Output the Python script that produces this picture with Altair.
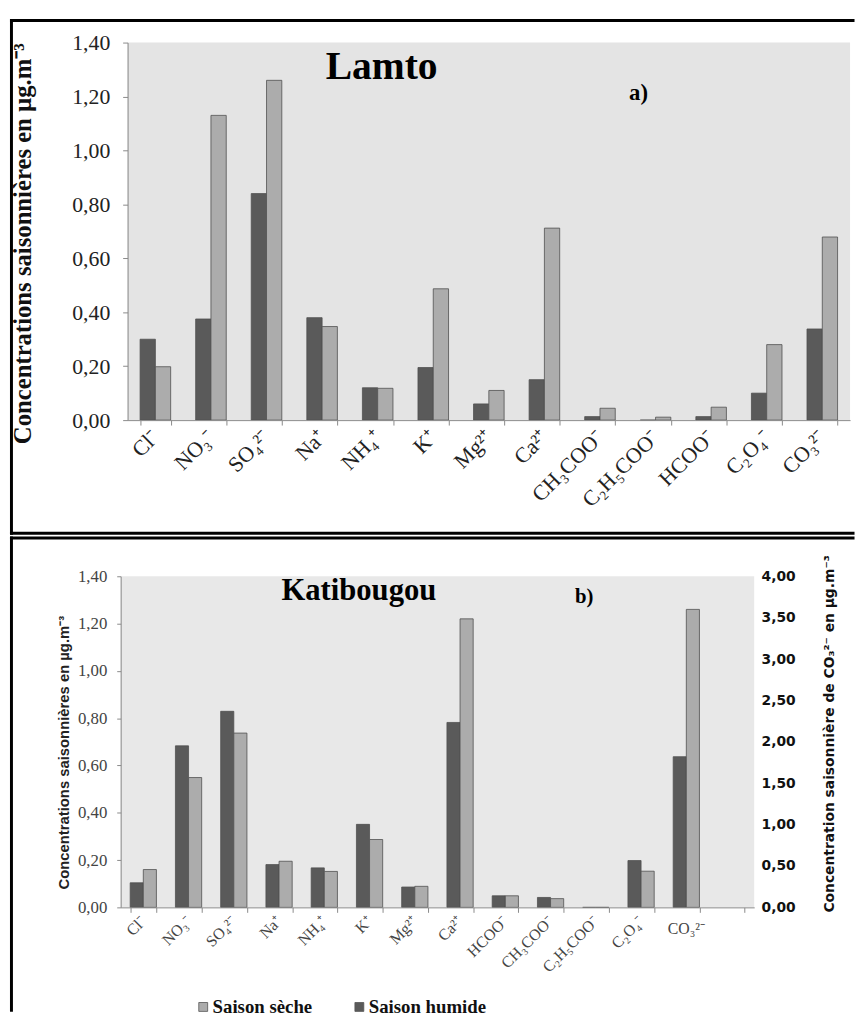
import altair as alt
import pandas as pd

# ---------------- data ----------------
ions_lamto = ["Cl⁻", "NO₃⁻", "SO₄²⁻", "Na⁺", "NH₄⁺", "K⁺", "Mg²⁺", "Ca²⁺",
              "CH₃COO⁻", "C₂H₅COO⁻", "HCOO⁻", "C₂O₄⁻", "CO₃²⁻"]
lamto_humide = [0.30, 0.375, 0.84, 0.38, 0.12, 0.195, 0.06, 0.15, 0.013, 0.0, 0.013, 0.10, 0.338]
lamto_seche = [0.198, 1.13, 1.26, 0.347, 0.118, 0.487, 0.11, 0.712, 0.044, 0.011, 0.048, 0.28, 0.679]

ions_kati = ["Cl⁻", "NO₃⁻", "SO₄²⁻", "Na⁺", "NH₄⁺", "K⁺", "Mg²⁺", "Ca²⁺",
             "HCOO⁻", "CH₃COO⁻", "C₂H₅COO⁻", "C₂O₄⁻"]
kati_humide = [0.104, 0.683, 0.829, 0.181, 0.167, 0.351, 0.086, 0.782, 0.049, 0.042, 0.0, 0.198]
kati_seche = [0.16, 0.549, 0.737, 0.195, 0.152, 0.287, 0.089, 1.22, 0.049, 0.037, 0.0, 0.153]
co3_ion = "CO₃²⁻"
kati_co3_humide = 1.82   # right axis (CO3 2-) units
kati_co3_seche = 3.60

seasons_bar = ["Saison humide", "Saison sèche"]
seasons_legend = ["Saison sèche", "Saison humide"]
season_colors = ["#acacac", "#5a5a5a"]

left_ticks = [0.0, 0.2, 0.4, 0.6, 0.8, 1.0, 1.2, 1.4]
right_ticks = [0.0, 0.5, 1.0, 1.5, 2.0, 2.5, 3.0, 3.5, 4.0]

comma_fmt = "replace(format(datum.value, '.2f'), '.', ',')"


def long_df(ions, hum, sec):
    rows = []
    for i, h, s in zip(ions, hum, sec):
        rows.append({"ion": i, "saison": "Saison humide", "value": h})
        rows.append({"ion": i, "saison": "Saison sèche", "value": s})
    return pd.DataFrame(rows)


df_a = long_df(ions_lamto, lamto_humide, lamto_seche)
df_b = long_df(ions_kati, kati_humide, kati_seche)
df_co3 = long_df([co3_ion], [kati_co3_humide], [kati_co3_seche])
one = pd.DataFrame({"k": [0]})

SERIF = "Liberation Serif, Times New Roman, serif"
SANS = "Liberation Sans, Arial, sans-serif"
WIDE = "DejaVu Sans, Verdana, sans-serif"
AXC = "#8a8a8a"

# ---------------- layout (pixels, relative to panel a plot origin) ----------------
W = 731            # panel a plot width
HA = 382           # panel a plot height
B_TOP, B_BOT = 540, 875   # panel b plot vertical extent
B_LEFT, B_RIGHT = -7, 634  # panel b plot horizontal extent


def rule(**enc):
    return alt.Chart(one).mark_rule(color="black", strokeWidth=3,
                                    strokeCap="square").encode(**enc)


def bg(x1, x2, y1, y2, fill):
    return alt.Chart(one).mark_rect(color=fill).encode(
        x=alt.value(x1), x2=alt.value(x2), y=alt.value(y1), y2=alt.value(y2))


def label_text(txt, x, y, size, font=SERIF):
    return alt.Chart(pd.DataFrame({"t": [txt]})).mark_text(
        font=font, fontSize=size, fontWeight="bold", align="center",
        baseline="alphabetic", color="black"
    ).encode(text="t:N", x=alt.value(x), y=alt.value(y))


# ---------------- panel a) Lamto ----------------
x_a = alt.X("ion:N", sort=ions_lamto,
            scale=alt.Scale(domain=ions_lamto, paddingInner=0.45, paddingOuter=0.225),
            axis=alt.Axis(orient="bottom", offset=-(B_BOT - HA), zindex=1,
                          title=None, tickBand="extent", labels=False,
                          domainColor=AXC, tickColor=AXC, tickSize=5))

bars_a = alt.Chart(df_a).mark_bar(stroke="#505050", strokeWidth=0.8).encode(
    x=x_a,
    xOffset=alt.XOffset("saison:N", scale=alt.Scale(domain=seasons_bar)),
    y=alt.Y("value:Q", scale=alt.Scale(domain=[0, 1.4], range=[HA, 0], nice=False),
            axis=alt.Axis(orient="left", values=left_ticks, labelExpr=comma_fmt,
                          grid=False, zindex=1,
                          title="Concentrations saisonnières en µg.m⁻³",
                          titleFont=SERIF, titleFontSize=25, titleFontWeight="bold",
                          titleColor="#111", titleAngle=270, titleX=-106, titleY=203,
                          titleAlign="center", titleBaseline="middle",
                          labelFont=SERIF, labelFontSize=22, labelColor="#222",
                          labelPadding=13, tickSize=5,
                          domainColor=AXC, tickColor=AXC)),
    color=alt.Color("saison:N", scale=alt.Scale(domain=seasons_legend, range=season_colors),
                    legend=None),
)

xlab_a = alt.Chart(pd.DataFrame({"ion": ions_lamto})).mark_text(
    font=SERIF, fontSize=22, color="#222", angle=315, align="right", baseline="middle"
).encode(x=x_a, text="ion:N", y=alt.value(HA + 14))

group_a = alt.layer(bars_a, xlab_a)

# ---------------- panel b) Katibougou ----------------
x_dom_b = ions_kati + [co3_ion, " "]
x_b = alt.X("ion:N", sort=x_dom_b,
            scale=alt.Scale(domain=x_dom_b, range=[B_LEFT, B_RIGHT],
                            paddingInner=0.42, paddingOuter=0.21),
            axis=alt.Axis(orient="bottom", zindex=1, labels=False,
                          title=None, tickBand="extent",
                          domainColor=AXC, tickColor=AXC, tickSize=5))
xoff_b = alt.XOffset("saison:N", scale=alt.Scale(domain=seasons_bar))
color_b = alt.Color("saison:N",
                    scale=alt.Scale(domain=seasons_legend, range=season_colors),
                    legend=alt.Legend(title=None, orient="none", legendX=67, legendY=966,
                                      direction="horizontal", columns=2, columnPadding=38,
                                      symbolType="square", symbolSize=81,
                                      symbolStrokeColor="#555", symbolStrokeWidth=0.8,
                                      labelFont=SERIF, labelFontSize=19,
                                      labelFontWeight="bold", labelColor="#111",
                                      labelOffset=0, padding=0))

bars_b = alt.Chart(df_b).mark_bar(stroke="#505050", strokeWidth=0.8).encode(
    x=x_b,
    xOffset=xoff_b,
    y=alt.Y("value:Q", scale=alt.Scale(domain=[0, 1.4], range=[B_BOT, B_TOP], nice=False),
            axis=alt.Axis(orient="left", offset=-B_LEFT, values=left_ticks,
                          labelExpr=comma_fmt, grid=False, zindex=1,
                          title="Concentrations saisonnières  en µg.m⁻³",
                          titleFont=SANS, titleFontSize=15, titleFontWeight="bold",
                          titleColor="#222", titleAngle=270, titleX=-58, titleY=718,
                          titleAlign="center", titleBaseline="middle",
                          labelFont=SERIF, labelFontSize=17, labelColor="#444",
                          labelPadding=10, tickSize=4,
                          domainColor=AXC, tickColor=AXC)),
    color=color_b,
)

bars_co3 = alt.Chart(df_co3).mark_bar(stroke="#505050", strokeWidth=0.8).encode(
    x=x_b,
    xOffset=xoff_b,
    y=alt.Y("value:Q", scale=alt.Scale(domain=[0, 4.0], range=[B_BOT, B_TOP], nice=False),
            axis=alt.Axis(orient="right", offset=-(W - B_RIGHT), values=right_ticks,
                          labelExpr=comma_fmt, grid=False, domain=False, ticks=False,
                          title="Concentration saisonnière de CO₃²⁻ en µg.m⁻³",
                          titleFont=WIDE, titleFontSize=14,
                          titleFontWeight="bold", titleColor="#111",
                          titleAngle=270, titleX=76, titleY=699,
                          titleAlign="center", titleBaseline="middle",
                          labelFont=WIDE, labelFontSize=14,
                          labelFontWeight="bold", labelColor="#111",
                          labelPadding=7)),
    color=color_b,
)

xlab_b = alt.Chart(pd.DataFrame({"ion": ions_kati})).mark_text(
    font=SERIF, fontSize=16, color="#444", angle=315, align="right", baseline="middle"
).encode(x=x_b, text="ion:N", y=alt.value(B_BOT + 12))

co3_label = alt.Chart(pd.DataFrame({"ion": [co3_ion]})).mark_text(
    font=SERIF, fontSize=16, color="#444", align="center", baseline="alphabetic"
).encode(x=x_b, text="ion:N", y=alt.value(B_BOT + 27))

group_b = alt.layer(bars_b, bars_co3, xlab_b, co3_label).resolve_scale(y="independent")

chart = alt.layer(
    bg(0, W, 0, HA, "#e4e4e4"),
    bg(B_LEFT, B_RIGHT, B_TOP, B_BOT, "#e8e8e8"),
    group_a,
    group_b,
    label_text("Lamto", 257, 37, 40),
    label_text("a)", 517, 58, 23),
    label_text("Katibougou", 234, 564, 31),
    label_text("b)", 462, 567, 21),
    # frame of panel a
    rule(x=alt.value(-117.5), x2=alt.value(734), y=alt.value(-22.3)),
    rule(x=alt.value(-117.5), x2=alt.value(734), y=alt.value(496.5)),
    rule(x=alt.value(-117.5), y=alt.value(-22.3), y2=alt.value(496.5)),
    # frame of panel b
    rule(x=alt.value(-117.5), x2=alt.value(734), y=alt.value(501.2)),
    rule(x=alt.value(-117.5), y=alt.value(501.2), y2=alt.value(979)),
).resolve_scale(
    x="independent", y="independent", xOffset="independent", color="independent"
).properties(
    width=W, height=B_BOT,
    padding={"left": 1, "top": 4, "right": 0, "bottom": 0},
    background="white",
).configure_view(stroke=None)

chart.save("out.html", embed_options={"renderer": "svg", "actions": False})
